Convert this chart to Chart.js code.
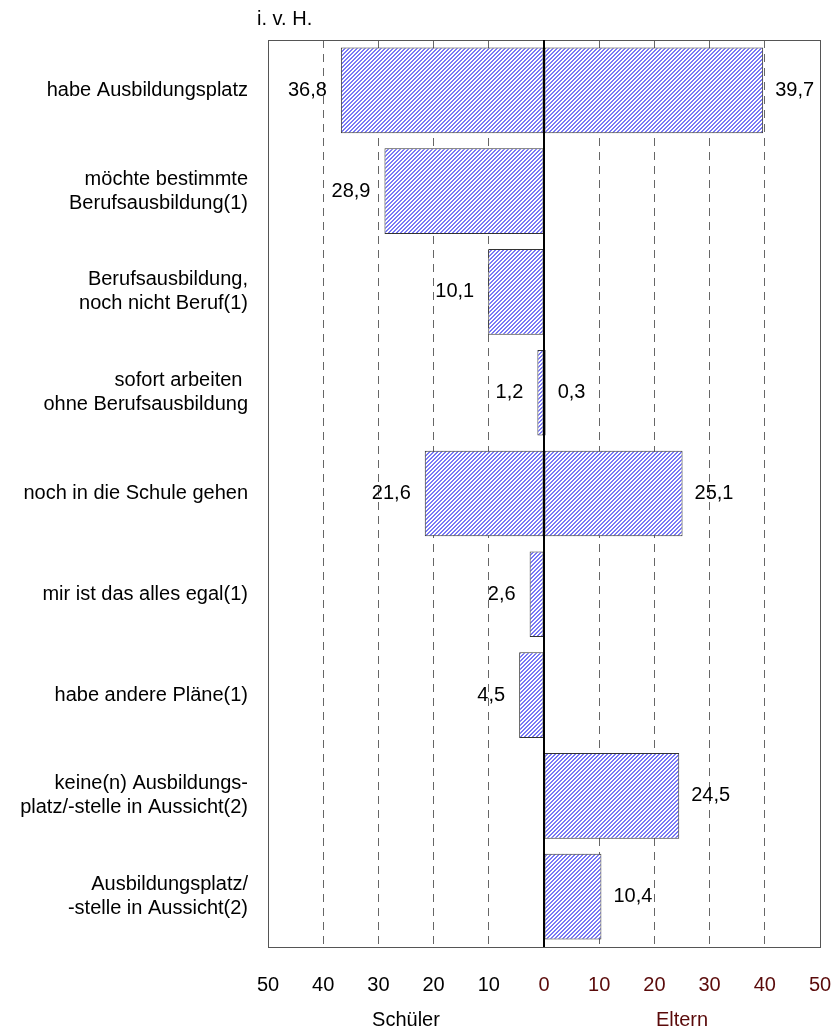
<!DOCTYPE html>
<html>
<head>
<meta charset="utf-8">
<script src="https://cdn.jsdelivr.net/npm/chart.js@4"></script>
<style>
  html, body { margin: 0; padding: 0; background: #fff; }
  #wrap { width: 835px; height: 1032px; }
</style>
</head>
<body>
<div id="wrap"><canvas id="chart"></canvas></div>
<script>
// Kategorien (Zeilen von oben nach unten)
const categories = [
  'habe Ausbildungsplatz',
  ['möchte bestimmte', 'Berufsausbildung(1)'],
  ['Berufsausbildung,', 'noch nicht Beruf(1)'],
  ['sofort arbeiten ', 'ohne Berufsausbildung'],
  'noch in die Schule gehen',
  'mir ist das alles egal(1)',
  'habe andere Pläne(1)',
  ['keine(n) Ausbildungs-', 'platz/-stelle in Aussicht(2)'],
  ['Ausbildungsplatz/', '-stelle in Aussicht(2)']
];

// Werte in Prozent (i. v. H.)
const schueler = [36.8, 28.9, 10.1, 1.2, 21.6, 2.6, 4.5, null, null];
const eltern   = [39.7, null, null, 0.3, 25.1, null, null, 24.5, 10.4];

const xTicks = [-50, -40, -30, -20, -10, 0, 10, 20, 30, 40, 50];

const MAROON = '#5a0a0a';
const FONT = 'Arial, "Liberation Sans", sans-serif';
const FSIZE = 20;

// Schraffur wie im Original
function makeHatch() {
  const c = document.createElement('canvas');
  c.width = 4; c.height = 4;
  const g = c.getContext('2d');
  g.fillStyle = '#ffffff';
  g.fillRect(0, 0, 4, 4);
  g.fillStyle = '#7878f6';
  for (let x = 0; x < 4; x++) {
    for (let y = 0; y < 4; y++) {
      if ((x + y) % 4 < 2) g.fillRect(x, y, 1, 1);
    }
  }
  return g.createPattern(c, 'repeat');
}
const hatch = makeHatch();

// Rahmen, Nulllinie, Werte und Beschriftungen
const extras = {
  id: 'extras',
  afterDatasetsDraw(chart) {
    const { ctx, chartArea: a, scales } = chart;
    const x0 = scales.x.getPixelForValue(0);
    ctx.save();
    ctx.strokeStyle = '#555';
    ctx.lineWidth = 1;
    ctx.strokeRect(Math.round(a.left) + 0.5, Math.round(a.top) + 0.5,
      Math.round(a.right - a.left), Math.round(a.bottom - a.top));
    ctx.strokeStyle = '#000';
    ctx.lineWidth = 2;
    ctx.beginPath();
    ctx.moveTo(x0, a.top);
    ctx.lineTo(x0, a.bottom);
    ctx.stroke();

    ctx.font = FSIZE + 'px ' + FONT;
    ctx.fillStyle = '#000';
    ctx.textBaseline = 'middle';
    chart.data.datasets.forEach((ds, di) => {
      const meta = chart.getDatasetMeta(di);
      meta.data.forEach((bar, i) => {
        const v = ds.data[i];
        if (v === null) return;
        const txt = Math.abs(v).toFixed(1).replace('.', ',');
        if (v < 0) {
          ctx.textAlign = 'right';
          ctx.fillText(txt, bar.x - 14, bar.y);
        } else {
          ctx.textAlign = 'left';
          ctx.fillText(txt, bar.x + 12, bar.y);
        }
      });
    });

    ctx.textAlign = 'left';
    ctx.fillText('i. v. H.', 257, 19);
    ctx.textAlign = 'center';
    const yT = 1020;
    ctx.fillText('Schüler', (a.left + x0) / 2, yT);
    ctx.fillStyle = MAROON;
    ctx.fillText('Eltern', (a.right + x0) / 2, yT);
    ctx.restore();
  }
};

new Chart(document.getElementById('chart'), {
  type: 'bar',
  data: {
    labels: categories,
    datasets: [
      {
        label: 'Schüler',
        data: schueler.map(v => v === null ? null : -v),
        backgroundColor: hatch,
        borderColor: '#333',
        borderWidth: 1,
        borderSkipped: false
      },
      {
        label: 'Eltern',
        data: eltern,
        backgroundColor: hatch,
        borderColor: '#333',
        borderWidth: 1,
        borderSkipped: false
      }
    ]
  },
  options: {
    indexAxis: 'y',
    responsive: true,
    maintainAspectRatio: false,
    animation: false,
    barPercentage: 0.85,
    categoryPercentage: 1,
    layout: { padding: { top: 40, right: 15, left: 0, bottom: 0 } },
    scales: {
      x: {
        min: -50,
        max: 50,
        afterBuildTicks: (s) => { s.ticks = xTicks.map(v => ({ value: v })); },
        afterFit: (s) => {
          s.height = 85;
          s.paddingLeft = 0;
          s.paddingRight = 0;
        },
        grid: {
          color: (c) => (c.tick && Math.abs(c.tick.value) < 50 && c.tick.value !== 0) ? '#666' : 'rgba(0,0,0,0)',
          drawTicks: false
        },
        border: { display: false, dash: [8, 6] },
        ticks: {
          padding: 26,
          font: { size: FSIZE, family: FONT },
          color: (c) => c.tick.value < 0 ? '#000' : MAROON,
          callback: (v) => Math.abs(v)
        }
      },
      y: {
        stacked: true,
        afterFit: (s) => {
          s.width = 268;
          s.paddingTop = 0;
          s.paddingBottom = 0;
        },
        grid: { display: false },
        border: { display: false },
        ticks: {
          padding: 12,
          color: '#000',
          font: { size: FSIZE, family: FONT, lineHeight: 1.2 }
        }
      }
    },
    plugins: {
      legend: { display: false },
      tooltip: { enabled: false }
    }
  },
  plugins: [extras]
});
</script>
</body>
</html>
